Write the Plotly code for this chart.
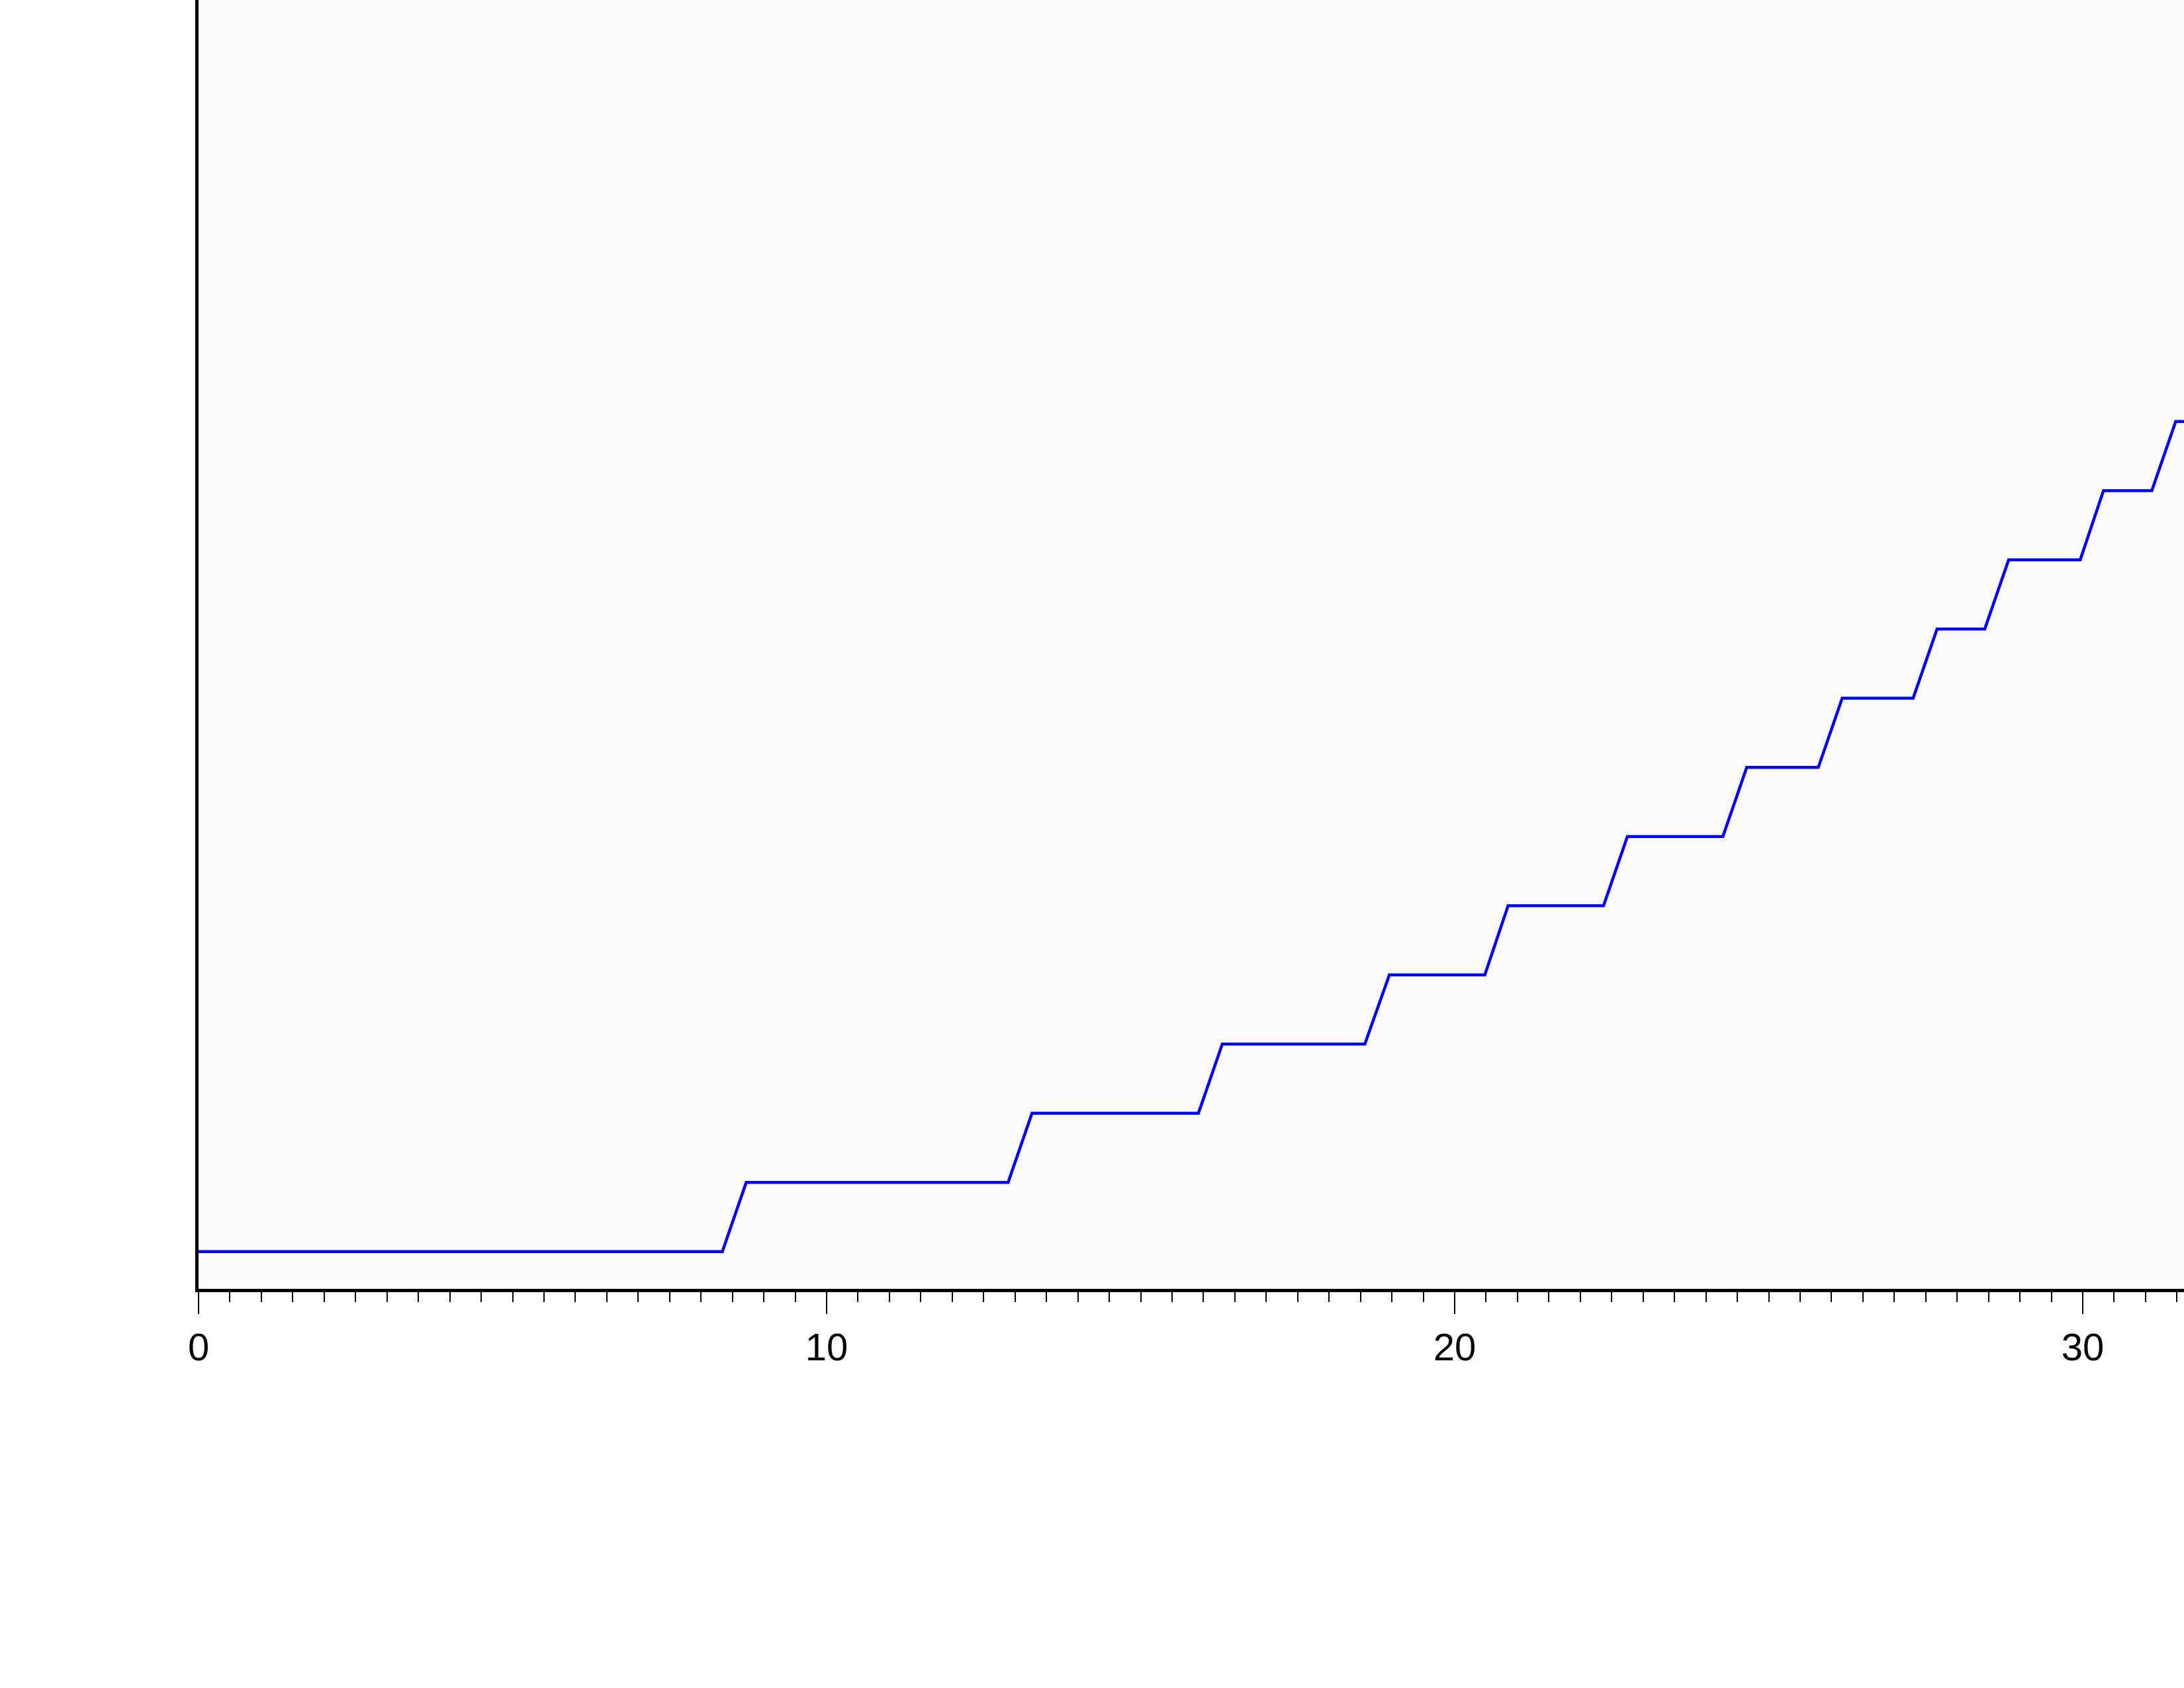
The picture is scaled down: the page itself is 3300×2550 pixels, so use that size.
import plotly.graph_objects as go

# Step levels (y) and the x-extent of each flat segment
levels = [0, 1, 2, 3, 4, 5, 6, 7, 8, 9, 10, 11, 12]
seg_start = [0.0, 8.72, 13.27, 16.30, 18.96, 20.85, 22.75, 24.65, 26.17, 27.68, 28.82, 30.33, 31.48]
seg_end = [8.34, 12.89, 15.92, 18.57, 20.48, 22.37, 24.27, 25.79, 27.30, 28.44, 29.96, 31.10, 32.50]

x_tick_vals = [0, 10, 20, 30]
x_tick_text = ["0", "10", "20", "30"]

xs, ys = [], []
for s, e, v in zip(seg_start, seg_end, levels):
    xs += [s, e]
    ys += [v, v]

fig = go.Figure()
fig.add_trace(go.Scatter(
    x=xs, y=ys, mode="lines",
    line=dict(color="#0000FF", width=4.5),
    showlegend=False, hoverinfo="skip",
))

fig.update_layout(
    width=3300, height=2550,
    margin=dict(l=300, r=0, t=0, b=603, pad=0),
    paper_bgcolor="#FFFFFF",
    plot_bgcolor="#FAFAFA",
    font=dict(family="Liberation Sans, Arial, sans-serif", size=58, color="#000000"),
)

fig.update_xaxes(
    range=[0, 31.612],
    showgrid=False, zeroline=False,
    showline=True, linecolor="#000000", linewidth=5,
    tickmode="array", tickvals=x_tick_vals, ticktext=x_tick_text,
    ticks="outside", ticklen=33, tickwidth=2, tickcolor="#000000",
    tickfont=dict(size=58, color="#000000"),
    minor=dict(dtick=0.5, tick0=0, ticks="outside", ticklen=15, tickwidth=2,
               tickcolor="#000000", showgrid=False),
)
fig.update_yaxes(
    range=[-0.539, 18.093],
    showgrid=False, zeroline=False,
    showline=True, linecolor="#000000", linewidth=5,
    showticklabels=False, ticks="",
)

fig.write_html(
    "out.html",
    config={"displayModeBar": False},
    post_script="document.body.style.margin='0px';document.body.style.padding='0px';",
)
